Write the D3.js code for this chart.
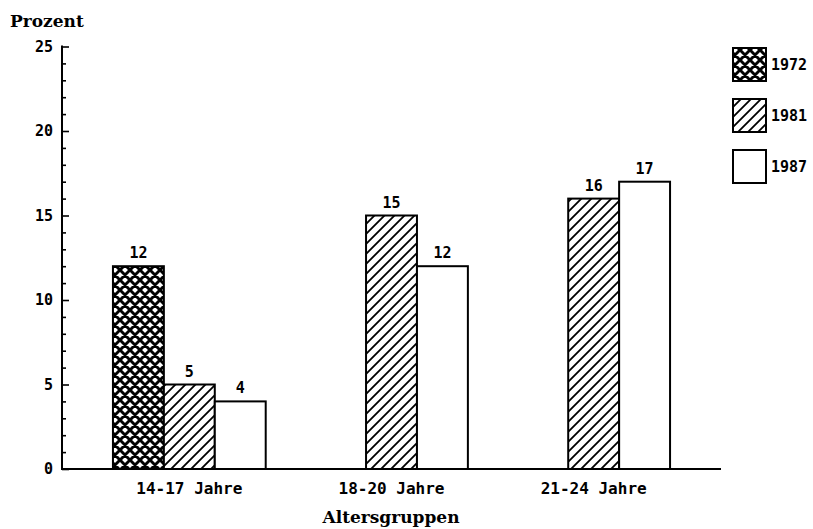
<!DOCTYPE html>
<html><head><meta charset="utf-8">
<script src="https://cdn.jsdelivr.net/npm/d3@7"></script>
<style>body{margin:0;background:#fff}svg{display:block}</style>
</head><body>
<script>
const groups = ["14-17 Jahre", "18-20 Jahre", "21-24 Jahre"];
const years = ["1972", "1981", "1987"];
const v1972 = [12, null, null];
const v1981 = [5, 15, 16];
const v1987 = [4, 12, 17];
const yTicks = [0, 5, 10, 15, 20, 25];
const yTitle = "Prozent";
const xTitle = "Altersgruppen";

const W = 813, H = 529;
const svg = d3.select("body").append("svg").attr("width", W).attr("height", H);
const defs = svg.append("defs");
const cross = defs.append("pattern").attr("id","p1972").attr("patternUnits","userSpaceOnUse").attr("width",10).attr("height",10);
cross.append("rect").attr("width",10).attr("height",10).attr("fill","#fff");
cross.append("path").attr("d","M-1,1 L1,-1 M0,10 L10,0 M9,11 L11,9 M-1,9 L1,11 M0,0 L10,10 M9,-1 L11,1").attr("stroke","#000").attr("stroke-width",2.9);
const hatch = defs.append("pattern").attr("id","p1981").attr("patternUnits","userSpaceOnUse").attr("width",10).attr("height",10);
hatch.append("rect").attr("width",10).attr("height",10).attr("fill","#fff");
hatch.append("path").attr("d","M-1,1 L1,-1 M0,10 L10,0 M9,11 L11,9").attr("stroke","#000").attr("stroke-width",1.8);
const fills = {"1972":"url(#p1972)","1981":"url(#p1981)","1987":"#fff"};
const series = {"1972": v1972, "1981": v1981, "1987": v1987};

const x0 = 62, x1 = 721, yBase = 469, yTop = 46.5;
const y = d3.scaleLinear().domain([0,25]).range([yBase, yTop]);
const xg = d3.scaleBand().domain(groups).range([x0, x1]).paddingInner(0.2444).paddingOuter(0.252);
const xs = d3.scaleBand().domain(years).range([0, xg.bandwidth()]).padding(0);

const mono = "'DejaVu Sans Mono', monospace";

// bars
groups.forEach((g, gi) => {
  years.forEach(yr => {
    const v = series[yr][gi];
    if (v == null) return;
    const bx = xg(g) + xs(yr);
    svg.append("rect").attr("x", bx).attr("y", y(v)).attr("width", xs.bandwidth()).attr("height", y(0)-y(v))
      .attr("fill", fills[yr]).attr("stroke","#000").attr("stroke-width",2);
    svg.append("text").attr("x", bx + xs.bandwidth()/2).attr("y", y(v) - 8).attr("text-anchor","middle")
      .attr("font-family", mono).attr("font-weight","bold").attr("font-size",15).text(v);
  });
});

// y axis
const yAxis = d3.axisRight(y).tickValues(d3.range(0,26,1)).tickSize(4).tickFormat("");
const ya = svg.append("g").attr("transform",`translate(${x0},0)`).call(yAxis);
ya.select(".domain").remove();
ya.selectAll(".tick line").attr("stroke","#000").attr("stroke-width",1.6).attr("x2", d => d % 5 === 0 ? 7 : 4);
svg.append("line").attr("x1",x0).attr("x2",x0).attr("y1",yTop-1).attr("y2",yBase).attr("stroke","#000").attr("stroke-width",2);
svg.selectAll(".ylab").data(yTicks).enter().append("text").attr("x",53).attr("y",d=>y(d)).attr("dy","0.36em")
  .attr("text-anchor","end").attr("font-family",mono).attr("font-weight","bold").attr("font-size",15).text(d=>d);

// x axis
const xAxis = d3.axisBottom(xg).tickSize(0).tickPadding(14);
const xa = svg.append("g").attr("transform",`translate(0,${yBase})`).call(xAxis);
xa.select(".domain").remove();
xa.selectAll(".tick text").attr("font-family",mono).attr("font-weight","bold").attr("font-size",16).attr("fill","#000");
svg.append("line").attr("x1",x0-1).attr("x2",x1).attr("y1",yBase).attr("y2",yBase).attr("stroke","#000").attr("stroke-width",2);

// titles
svg.append("text").attr("x",10).attr("y",27).attr("font-family","'DejaVu Serif', serif").attr("font-weight","bold").attr("font-size",17).text(yTitle);
svg.append("text").attr("x",391).attr("y",523).attr("text-anchor","middle").attr("font-family","'DejaVu Serif', serif").attr("font-weight","bold").attr("font-size",17).text(xTitle);

// legend
const leg = svg.append("g");
years.forEach((yr,i) => {
  const ly = 48 + i*51;
  leg.append("rect").attr("x",733).attr("y",ly).attr("width",33).attr("height",33).attr("fill",fills[yr]).attr("stroke","#000").attr("stroke-width",2);
  leg.append("text").attr("x",771).attr("y",ly+16.5).attr("dy","0.36em").attr("font-family",mono).attr("font-weight","bold").attr("font-size",15).text(yr);
});
</script>
</body></html>
